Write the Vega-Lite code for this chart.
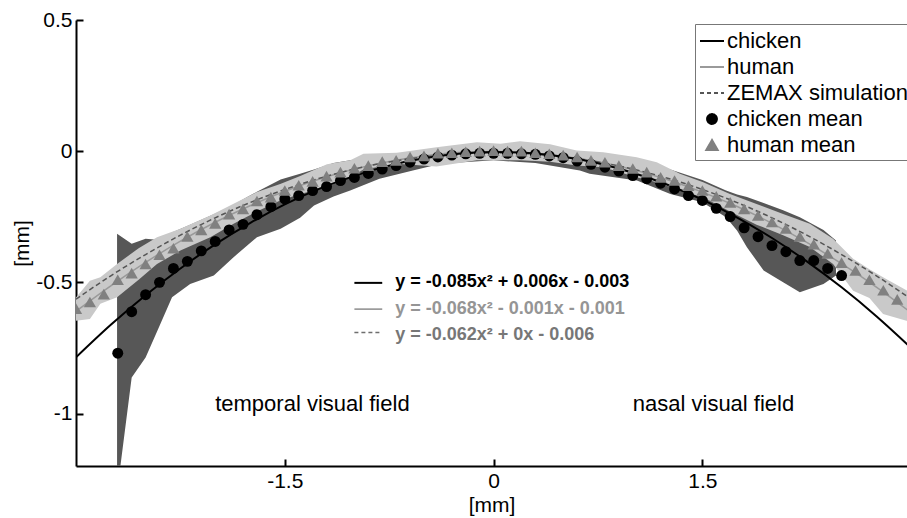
{
  "$schema": "https://vega.github.io/schema/vega-lite/v6.json",
  "width": 831,
  "height": 446,
  "autosize": {"type": "none"},
  "padding": {"left": 76, "top": 20, "right": 0, "bottom": 52},
  "background": "white",
  "config": {
    "view": {"stroke": null},
    "font": "Liberation Sans",
    "axis": {
      "domainColor": "black", "domainWidth": 2, "tickColor": "black", "tickWidth": 2,
      "labelColor": "black", "labelFont": "Liberation Sans", "labelFontSize": 21,
      "titleFont": "Liberation Sans", "titleFontSize": 21, "titleFontWeight": "normal", "titleColor": "black",
      "grid": false
    }
  },
  "datasets": {
    "chickBand": [
      {"x": -2.705, "lo": -1.3, "hi": -0.315},
      {"x": -2.6, "lo": -0.863, "hi": -0.353},
      {"x": -2.5, "lo": -0.786, "hi": -0.334},
      {"x": -2.42, "lo": -0.69, "hi": -0.338},
      {"x": -2.31, "lo": -0.557, "hi": -0.31},
      {"x": -2.18, "lo": -0.506, "hi": -0.28},
      {"x": -2.01, "lo": -0.474, "hi": -0.24},
      {"x": -1.87, "lo": -0.405, "hi": -0.205},
      {"x": -1.77, "lo": -0.36, "hi": -0.175},
      {"x": -1.7, "lo": -0.328, "hi": -0.155},
      {"x": -1.53, "lo": -0.296, "hi": -0.108},
      {"x": -1.39, "lo": -0.254, "hi": -0.086},
      {"x": -1.29, "lo": -0.207, "hi": -0.07},
      {"x": -1.15, "lo": -0.173, "hi": -0.045},
      {"x": -1.03, "lo": -0.15, "hi": -0.035},
      {"x": -0.82, "lo": -0.105, "hi": -0.02},
      {"x": -0.58, "lo": -0.074, "hi": -0.008},
      {"x": -0.38, "lo": -0.048, "hi": 0.0},
      {"x": 0.0, "lo": -0.035, "hi": 0.008},
      {"x": 0.3, "lo": -0.045, "hi": 0.004},
      {"x": 0.62, "lo": -0.074, "hi": -0.01},
      {"x": 0.69, "lo": -0.086, "hi": -0.015},
      {"x": 1.03, "lo": -0.112, "hi": -0.04},
      {"x": 1.27, "lo": -0.163, "hi": -0.07},
      {"x": 1.5, "lo": -0.195, "hi": -0.11},
      {"x": 1.67, "lo": -0.252, "hi": -0.15},
      {"x": 1.75, "lo": -0.303, "hi": -0.165},
      {"x": 1.82, "lo": -0.366, "hi": -0.175},
      {"x": 1.94, "lo": -0.455, "hi": -0.198},
      {"x": 2.08, "lo": -0.5, "hi": -0.225},
      {"x": 2.2, "lo": -0.538, "hi": -0.252},
      {"x": 2.37, "lo": -0.506, "hi": -0.3},
      {"x": 2.46, "lo": -0.474, "hi": -0.34}
    ],
    "humBand": [
      {"x": -3.0, "lo": -0.646, "hi": -0.558},
      {"x": -2.9, "lo": -0.64, "hi": -0.494},
      {"x": -2.825, "lo": -0.582, "hi": -0.481},
      {"x": -2.705, "lo": -0.557, "hi": -0.43},
      {"x": -2.55, "lo": -0.49, "hi": -0.37},
      {"x": -2.418, "lo": -0.43, "hi": -0.328},
      {"x": -2.25, "lo": -0.379, "hi": -0.296},
      {"x": -2.035, "lo": -0.328, "hi": -0.245},
      {"x": -1.868, "lo": -0.277, "hi": -0.2},
      {"x": -1.7, "lo": -0.23, "hi": -0.156},
      {"x": -1.533, "lo": -0.188, "hi": -0.125},
      {"x": -1.389, "lo": -0.163, "hi": -0.095},
      {"x": -1.197, "lo": -0.137, "hi": -0.05},
      {"x": -1.03, "lo": -0.099, "hi": -0.035},
      {"x": -0.935, "lo": -0.07, "hi": -0.01},
      {"x": -0.695, "lo": -0.048, "hi": -0.006},
      {"x": -0.41, "lo": -0.058, "hi": 0.015},
      {"x": -0.12, "lo": -0.035, "hi": 0.034},
      {"x": 0.05, "lo": -0.035, "hi": 0.028},
      {"x": 0.19, "lo": -0.035, "hi": 0.038},
      {"x": 0.406, "lo": -0.04, "hi": 0.026},
      {"x": 0.597, "lo": -0.055, "hi": 0.003},
      {"x": 0.788, "lo": -0.061, "hi": -0.004},
      {"x": 1.028, "lo": -0.099, "hi": -0.023},
      {"x": 1.172, "lo": -0.118, "hi": -0.042},
      {"x": 1.339, "lo": -0.15, "hi": -0.086},
      {"x": 1.506, "lo": -0.176, "hi": -0.118},
      {"x": 1.698, "lo": -0.23, "hi": -0.163},
      {"x": 1.889, "lo": -0.28, "hi": -0.201},
      {"x": 2.08, "lo": -0.32, "hi": -0.239},
      {"x": 2.272, "lo": -0.365, "hi": -0.277},
      {"x": 2.439, "lo": -0.43, "hi": -0.334},
      {"x": 2.583, "lo": -0.532, "hi": -0.41},
      {"x": 2.7, "lo": -0.56, "hi": -0.45},
      {"x": 2.798, "lo": -0.621, "hi": -0.481},
      {"x": 2.966, "lo": -0.646, "hi": -0.53},
      {"x": 3.0, "lo": -0.65, "hi": -0.54}
    ],
    "chickFit": [
      {"s": "chicken", "x": -3, "y": -0.786}, {"s": "chicken", "x": -2.75, "y": -0.662},
      {"s": "chicken", "x": -2.5, "y": -0.549}, {"s": "chicken", "x": -2.25, "y": -0.447},
      {"s": "chicken", "x": -2, "y": -0.355}, {"s": "chicken", "x": -1.75, "y": -0.274},
      {"s": "chicken", "x": -1.5, "y": -0.203}, {"s": "chicken", "x": -1.25, "y": -0.143},
      {"s": "chicken", "x": -1, "y": -0.094}, {"s": "chicken", "x": -0.75, "y": -0.055},
      {"s": "chicken", "x": -0.5, "y": -0.027}, {"s": "chicken", "x": -0.25, "y": -0.01},
      {"s": "chicken", "x": 0, "y": -0.003}, {"s": "chicken", "x": 0.25, "y": -0.007},
      {"s": "chicken", "x": 0.5, "y": -0.021}, {"s": "chicken", "x": 0.75, "y": -0.046},
      {"s": "chicken", "x": 1, "y": -0.082}, {"s": "chicken", "x": 1.25, "y": -0.128},
      {"s": "chicken", "x": 1.5, "y": -0.185}, {"s": "chicken", "x": 1.75, "y": -0.253},
      {"s": "chicken", "x": 2, "y": -0.331}, {"s": "chicken", "x": 2.25, "y": -0.42},
      {"s": "chicken", "x": 2.5, "y": -0.519}, {"s": "chicken", "x": 2.75, "y": -0.629},
      {"s": "chicken", "x": 3, "y": -0.75}
    ],
    "humFit": [
      {"s": "human", "x": -3, "y": -0.61}, {"s": "human", "x": -2.75, "y": -0.513},
      {"s": "human", "x": -2.5, "y": -0.424}, {"s": "human", "x": -2.25, "y": -0.343},
      {"s": "human", "x": -2, "y": -0.271}, {"s": "human", "x": -1.75, "y": -0.208},
      {"s": "human", "x": -1.5, "y": -0.153}, {"s": "human", "x": -1.25, "y": -0.106},
      {"s": "human", "x": -1, "y": -0.068}, {"s": "human", "x": -0.75, "y": -0.039},
      {"s": "human", "x": -0.5, "y": -0.018}, {"s": "human", "x": -0.25, "y": -0.005},
      {"s": "human", "x": 0, "y": -0.001}, {"s": "human", "x": 0.25, "y": -0.006},
      {"s": "human", "x": 0.5, "y": -0.019}, {"s": "human", "x": 0.75, "y": -0.04},
      {"s": "human", "x": 1, "y": -0.07}, {"s": "human", "x": 1.25, "y": -0.109},
      {"s": "human", "x": 1.5, "y": -0.156}, {"s": "human", "x": 1.75, "y": -0.211},
      {"s": "human", "x": 2, "y": -0.275}, {"s": "human", "x": 2.25, "y": -0.348},
      {"s": "human", "x": 2.5, "y": -0.429}, {"s": "human", "x": 2.75, "y": -0.518},
      {"s": "human", "x": 3, "y": -0.616}
    ],
    "zemaxFit": [
      {"s": "ZEMAX simulation", "x": -3, "y": -0.564}, {"s": "ZEMAX simulation", "x": -2.75, "y": -0.475},
      {"s": "ZEMAX simulation", "x": -2.5, "y": -0.394}, {"s": "ZEMAX simulation", "x": -2.25, "y": -0.32},
      {"s": "ZEMAX simulation", "x": -2, "y": -0.254}, {"s": "ZEMAX simulation", "x": -1.75, "y": -0.196},
      {"s": "ZEMAX simulation", "x": -1.5, "y": -0.146}, {"s": "ZEMAX simulation", "x": -1.25, "y": -0.103},
      {"s": "ZEMAX simulation", "x": -1, "y": -0.068}, {"s": "ZEMAX simulation", "x": -0.75, "y": -0.041},
      {"s": "ZEMAX simulation", "x": -0.5, "y": -0.022}, {"s": "ZEMAX simulation", "x": -0.25, "y": -0.01},
      {"s": "ZEMAX simulation", "x": 0, "y": -0.006}, {"s": "ZEMAX simulation", "x": 0.25, "y": -0.01},
      {"s": "ZEMAX simulation", "x": 0.5, "y": -0.022}, {"s": "ZEMAX simulation", "x": 0.75, "y": -0.041},
      {"s": "ZEMAX simulation", "x": 1, "y": -0.068}, {"s": "ZEMAX simulation", "x": 1.25, "y": -0.103},
      {"s": "ZEMAX simulation", "x": 1.5, "y": -0.146}, {"s": "ZEMAX simulation", "x": 1.75, "y": -0.196},
      {"s": "ZEMAX simulation", "x": 2, "y": -0.254}, {"s": "ZEMAX simulation", "x": 2.25, "y": -0.32},
      {"s": "ZEMAX simulation", "x": 2.5, "y": -0.394}, {"s": "ZEMAX simulation", "x": 2.75, "y": -0.475},
      {"s": "ZEMAX simulation", "x": 3, "y": -0.564}
    ],
    "chickMean": [
      {"s": "chicken mean", "x": -2.7, "y": -0.77}, {"s": "chicken mean", "x": -2.6, "y": -0.612},
      {"s": "chicken mean", "x": -2.5, "y": -0.547}, {"s": "chicken mean", "x": -2.4, "y": -0.5},
      {"s": "chicken mean", "x": -2.3, "y": -0.447}, {"s": "chicken mean", "x": -2.2, "y": -0.42},
      {"s": "chicken mean", "x": -2.1, "y": -0.38}, {"s": "chicken mean", "x": -2.0, "y": -0.344},
      {"s": "chicken mean", "x": -1.9, "y": -0.3}, {"s": "chicken mean", "x": -1.8, "y": -0.279},
      {"s": "chicken mean", "x": -1.7, "y": -0.242}, {"s": "chicken mean", "x": -1.6, "y": -0.211},
      {"s": "chicken mean", "x": -1.5, "y": -0.182}, {"s": "chicken mean", "x": -1.4, "y": -0.169},
      {"s": "chicken mean", "x": -1.3, "y": -0.15}, {"s": "chicken mean", "x": -1.2, "y": -0.135},
      {"s": "chicken mean", "x": -1.1, "y": -0.112}, {"s": "chicken mean", "x": -1.0, "y": -0.1},
      {"s": "chicken mean", "x": -0.9, "y": -0.085}, {"s": "chicken mean", "x": -0.8, "y": -0.068},
      {"s": "chicken mean", "x": -0.7, "y": -0.055}, {"s": "chicken mean", "x": -0.6, "y": -0.042},
      {"s": "chicken mean", "x": -0.5, "y": -0.03}, {"s": "chicken mean", "x": -0.4, "y": -0.022},
      {"s": "chicken mean", "x": -0.3, "y": -0.015}, {"s": "chicken mean", "x": -0.2, "y": -0.01},
      {"s": "chicken mean", "x": -0.1, "y": -0.008}, {"s": "chicken mean", "x": 0.0, "y": -0.008},
      {"s": "chicken mean", "x": 0.1, "y": -0.008}, {"s": "chicken mean", "x": 0.2, "y": -0.01},
      {"s": "chicken mean", "x": 0.3, "y": -0.012}, {"s": "chicken mean", "x": 0.4, "y": -0.018},
      {"s": "chicken mean", "x": 0.5, "y": -0.025}, {"s": "chicken mean", "x": 0.6, "y": -0.038},
      {"s": "chicken mean", "x": 0.7, "y": -0.05}, {"s": "chicken mean", "x": 0.8, "y": -0.061},
      {"s": "chicken mean", "x": 0.9, "y": -0.076}, {"s": "chicken mean", "x": 1.0, "y": -0.093},
      {"s": "chicken mean", "x": 1.1, "y": -0.105}, {"s": "chicken mean", "x": 1.2, "y": -0.122},
      {"s": "chicken mean", "x": 1.3, "y": -0.144}, {"s": "chicken mean", "x": 1.4, "y": -0.169},
      {"s": "chicken mean", "x": 1.5, "y": -0.188}, {"s": "chicken mean", "x": 1.6, "y": -0.218},
      {"s": "chicken mean", "x": 1.7, "y": -0.249}, {"s": "chicken mean", "x": 1.8, "y": -0.292},
      {"s": "chicken mean", "x": 1.9, "y": -0.326}, {"s": "chicken mean", "x": 2.0, "y": -0.36},
      {"s": "chicken mean", "x": 2.1, "y": -0.383}, {"s": "chicken mean", "x": 2.2, "y": -0.417},
      {"s": "chicken mean", "x": 2.3, "y": -0.417}, {"s": "chicken mean", "x": 2.4, "y": -0.447},
      {"s": "chicken mean", "x": 2.5, "y": -0.474}
    ],
    "humMean": [
      {"s": "human mean", "x": -3.0, "y": -0.6}, {"s": "human mean", "x": -2.9, "y": -0.575},
      {"s": "human mean", "x": -2.8, "y": -0.545}, {"s": "human mean", "x": -2.7, "y": -0.49},
      {"s": "human mean", "x": -2.6, "y": -0.465}, {"s": "human mean", "x": -2.5, "y": -0.43},
      {"s": "human mean", "x": -2.4, "y": -0.395}, {"s": "human mean", "x": -2.3, "y": -0.37},
      {"s": "human mean", "x": -2.2, "y": -0.325}, {"s": "human mean", "x": -2.1, "y": -0.3},
      {"s": "human mean", "x": -2.0, "y": -0.275}, {"s": "human mean", "x": -1.9, "y": -0.24},
      {"s": "human mean", "x": -1.8, "y": -0.22}, {"s": "human mean", "x": -1.7, "y": -0.19},
      {"s": "human mean", "x": -1.6, "y": -0.175}, {"s": "human mean", "x": -1.5, "y": -0.15},
      {"s": "human mean", "x": -1.4, "y": -0.13}, {"s": "human mean", "x": -1.3, "y": -0.115},
      {"s": "human mean", "x": -1.2, "y": -0.095}, {"s": "human mean", "x": -1.1, "y": -0.08},
      {"s": "human mean", "x": -1.0, "y": -0.065}, {"s": "human mean", "x": -0.9, "y": -0.055},
      {"s": "human mean", "x": -0.8, "y": -0.04}, {"s": "human mean", "x": -0.7, "y": -0.035},
      {"s": "human mean", "x": -0.6, "y": -0.022}, {"s": "human mean", "x": -0.5, "y": -0.018},
      {"s": "human mean", "x": -0.4, "y": -0.008}, {"s": "human mean", "x": -0.3, "y": -0.006},
      {"s": "human mean", "x": -0.2, "y": -0.002}, {"s": "human mean", "x": -0.1, "y": 0.0},
      {"s": "human mean", "x": 0.0, "y": 0.002}, {"s": "human mean", "x": 0.1, "y": 0.0},
      {"s": "human mean", "x": 0.2, "y": 0.0}, {"s": "human mean", "x": 0.3, "y": -0.006},
      {"s": "human mean", "x": 0.4, "y": -0.01}, {"s": "human mean", "x": 0.5, "y": -0.015},
      {"s": "human mean", "x": 0.6, "y": -0.022}, {"s": "human mean", "x": 0.7, "y": -0.035},
      {"s": "human mean", "x": 0.8, "y": -0.042}, {"s": "human mean", "x": 0.9, "y": -0.055},
      {"s": "human mean", "x": 1.0, "y": -0.066}, {"s": "human mean", "x": 1.1, "y": -0.08},
      {"s": "human mean", "x": 1.2, "y": -0.1}, {"s": "human mean", "x": 1.3, "y": -0.112},
      {"s": "human mean", "x": 1.4, "y": -0.132}, {"s": "human mean", "x": 1.5, "y": -0.15},
      {"s": "human mean", "x": 1.6, "y": -0.172}, {"s": "human mean", "x": 1.7, "y": -0.195},
      {"s": "human mean", "x": 1.8, "y": -0.22}, {"s": "human mean", "x": 1.9, "y": -0.245},
      {"s": "human mean", "x": 2.0, "y": -0.27}, {"s": "human mean", "x": 2.1, "y": -0.295},
      {"s": "human mean", "x": 2.2, "y": -0.325}, {"s": "human mean", "x": 2.3, "y": -0.355},
      {"s": "human mean", "x": 2.4, "y": -0.39}, {"s": "human mean", "x": 2.5, "y": -0.425},
      {"s": "human mean", "x": 2.6, "y": -0.455}, {"s": "human mean", "x": 2.7, "y": -0.49},
      {"s": "human mean", "x": 2.8, "y": -0.53}, {"s": "human mean", "x": 2.9, "y": -0.565}
    ],
    "one": [{}]
  },
  "encoding": {
    "x": {"type": "quantitative", "scale": {"domain": [-3, 2.97], "nice": false, "zero": false},
      "axis": {"title": "[mm]", "titleColor": "black", "values": [-1.5, 0, 1.5], "tickSize": -7, "labelPadding": 11, "titlePadding": 3, "labelFlush": false,
        "labelExpr": "'' + datum.value"}},
    "y": {"type": "quantitative", "scale": {"domain": [-1.2, 0.5], "nice": false, "zero": false},
      "axis": {"title": "[mm]", "titleColor": "black", "values": [-1, -0.5, 0, 0.5], "tickSize": -7, "labelPadding": 11, "titlePadding": 3, "labelFlush": false,
        "labelExpr": "'' + datum.value"}}
  },
  "layer": [
    {
      "data": {"name": "chickBand"},
      "mark": {"type": "area", "color": "#575757", "clip": true},
      "encoding": {"x": {"field": "x"}, "y": {"field": "lo"}, "y2": {"field": "hi"}}
    },
    {
      "data": {"name": "humBand"},
      "mark": {"type": "area", "color": "#c9c9c9", "clip": true},
      "encoding": {"x": {"field": "x"}, "y": {"field": "lo"}, "y2": {"field": "hi"}}
    },
    {
      "data": {"name": "humFit"},
      "mark": {"type": "line", "strokeWidth": 1.5, "interpolate": "monotone", "clip": true},
      "encoding": {"x": {"field": "x"}, "y": {"field": "y"},
        "color": {"field": "s", "type": "nominal",
          "scale": {"domain": ["chicken", "human", "ZEMAX simulation", "chicken mean", "human mean"],
                    "range": ["#000000", "#9a9a9a", "#555555", "#000000", "#808080"]},
          "legend": {
            "title": null, "orient": "none", "legendX": 619, "legendY": 4,
            "strokeColor": "#777777", "fillColor": "white", "padding": 4, "cornerRadius": 0,
            "symbolSize": 576, "symbolStrokeWidth": 1.8,
            "labelFontSize": 22, "labelFont": "Liberation Sans", "labelColor": "black",
            "labelOffset": 2, "rowPadding": 2, "labelLimit": 400,
            "encode": {
              "symbols": {
                "update": {
                  "shape": {"signal": "datum.value == 'chicken mean' ? 'circle' : datum.value == 'human mean' ? 'triangle-up' : 'stroke'"},
                  "size": {"signal": "datum.value == 'chicken mean' ? 100 : datum.value == 'human mean' ? 140 : 576"},
                  "fill": {"signal": "datum.value == 'chicken mean' ? '#000000' : datum.value == 'human mean' ? '#808080' : 'transparent'"},
                  "strokeDash": {"signal": "datum.value == 'ZEMAX simulation' ? [4, 3] : [1, 0]"},
                  "strokeWidth": {"value": 1.8},
                  "opacity": {"value": 1}
                }
              }
            }
          }
        }
      }
    },
    {
      "data": {"name": "zemaxFit"},
      "mark": {"type": "line", "strokeWidth": 1.5, "strokeDash": [5, 3], "interpolate": "monotone", "clip": true},
      "encoding": {"x": {"field": "x"}, "y": {"field": "y"}, "color": {"field": "s", "type": "nominal"}}
    },
    {
      "data": {"name": "chickFit"},
      "mark": {"type": "line", "strokeWidth": 2, "interpolate": "monotone", "clip": true},
      "encoding": {"x": {"field": "x"}, "y": {"field": "y"}, "color": {"field": "s", "type": "nominal"}}
    },
    {
      "data": {"name": "chickMean"},
      "mark": {"type": "point", "shape": "circle", "filled": true, "opacity": 1, "size": 120, "clip": true},
      "encoding": {"x": {"field": "x"}, "y": {"field": "y"}, "color": {"field": "s", "type": "nominal"}}
    },
    {
      "data": {"name": "humMean"},
      "mark": {"type": "point", "shape": "triangle-up", "filled": true, "opacity": 1, "size": 150, "clip": true},
      "encoding": {"x": {"field": "x"}, "y": {"field": "y"}, "color": {"field": "s", "type": "nominal"}}
    },
    {
      "data": {"name": "one"},
      "mark": {"type": "text", "align": "left", "baseline": "alphabetic", "fontSize": 22, "font": "Liberation Sans", "color": "black", "text": "temporal visual field"},
      "encoding": {"x": {"datum": -2.0}, "y": {"datum": -0.99}}
    },
    {
      "data": {"name": "one"},
      "mark": {"type": "text", "align": "left", "baseline": "alphabetic", "fontSize": 22, "font": "Liberation Sans", "color": "black", "text": "nasal visual field"},
      "encoding": {"x": {"datum": 1.0}, "y": {"datum": -0.99}}
    },
    {
      "data": {"name": "one"},
      "mark": {"type": "rule", "color": "black", "strokeWidth": 2},
      "encoding": {"x": {"datum": -1.0}, "x2": {"datum": -0.8}, "y": {"datum": -0.502}}
    },
    {
      "data": {"name": "one"},
      "mark": {"type": "rule", "color": "#8c8c8c", "strokeWidth": 1.5},
      "encoding": {"x": {"datum": -1.0}, "x2": {"datum": -0.8}, "y": {"datum": -0.602}}
    },
    {
      "data": {"name": "one"},
      "mark": {"type": "rule", "color": "#6e6e6e", "strokeWidth": 1.5, "strokeDash": [4, 3]},
      "encoding": {"x": {"datum": -1.0}, "x2": {"datum": -0.8}, "y": {"datum": -0.691}}
    },
    {
      "data": {"name": "one"},
      "mark": {"type": "text", "align": "left", "baseline": "alphabetic", "fontSize": 18, "fontWeight": "bold", "font": "Liberation Sans", "color": "black", "text": "y = -0.085x² + 0.006x - 0.003"},
      "encoding": {"x": {"datum": -0.707}, "y": {"datum": -0.519}}
    },
    {
      "data": {"name": "one"},
      "mark": {"type": "text", "align": "left", "baseline": "alphabetic", "fontSize": 18, "fontWeight": "bold", "font": "Liberation Sans", "color": "#959595", "text": "y = -0.068x² - 0.001x - 0.001"},
      "encoding": {"x": {"datum": -0.707}, "y": {"datum": -0.621}}
    },
    {
      "data": {"name": "one"},
      "mark": {"type": "text", "align": "left", "baseline": "alphabetic", "fontSize": 18, "fontWeight": "bold", "font": "Liberation Sans", "color": "#777777", "text": "y = -0.062x² + 0x - 0.006"},
      "encoding": {"x": {"datum": -0.707}, "y": {"datum": -0.72}}
    }
  ]
}
